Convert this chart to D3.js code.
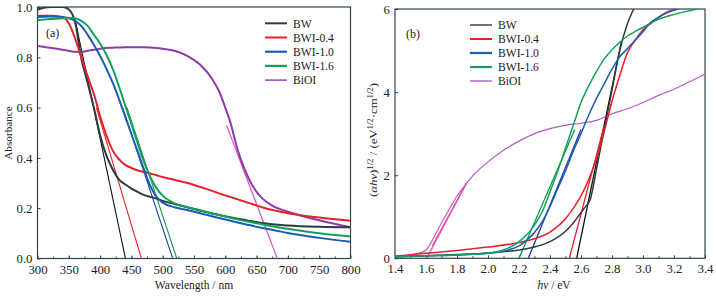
<!DOCTYPE html>
<html lang="en">
	<head>
		<meta charset="utf-8">
		<title>Absorbance and Tauc plot</title>
		<script type="text/javascript" src="https://cdn.jsdelivr.net/npm/d3@7"></script>
		<style type="text/css">
			body { margin: 0; background: #fff; }
			text { font-family: "Liberation Serif", "Times New Roman", serif; fill: #222; }
			.tick text { font-size: 12.8px; }
			.legend text { font-size: 11.6px; }
		</style>
	</head>
	<body>
		<script type="text/javascript">

			//Series names and colours
			let names = [ "BW", "BWI-0.4", "BWI-1.0", "BWI-1.6", "BiOI" ];
			let colorsA = [ "#2c3a42", "#e8202c", "#1c5cb4", "#12a05a", "#8c3ca4" ];
			let colorsB = [ "#2c3a42", "#e8202c", "#1c5cb4", "#12a05a", "#b55cc4" ];

			//(a) absorbance vs wavelength
			let wl = [ 300, 320, 340, 350, 360, 370, 380, 390, 400, 410, 420, 430, 440, 450, 460, 470, 480, 490, 500, 520, 540, 560, 580, 590, 600, 610, 615, 620, 630, 640, 650, 660, 675, 700, 750, 800 ];
			let absBW   = [ 0.99, 1.0, 1.0, 0.99, 0.94, 0.795, 0.70, 0.60, 0.49, 0.41, 0.355, 0.315, 0.295, 0.278, 0.265, 0.253, 0.245, 0.238, 0.229, 0.216, 0.203, 0.19, 0.178, 0.173, 0.168, 0.163, 0.16, 0.158, 0.154, 0.149, 0.145, 0.141, 0.136, 0.131, 0.126, 0.124 ];
			let absW04  = [ 0.965, 0.965, 0.96, 0.935, 0.875, 0.80, 0.725, 0.655, 0.565, 0.49, 0.43, 0.395, 0.372, 0.36, 0.35, 0.344, 0.338, 0.331, 0.324, 0.312, 0.3, 0.284, 0.268, 0.259, 0.251, 0.243, 0.239, 0.235, 0.227, 0.219, 0.211, 0.203, 0.193, 0.18, 0.163, 0.15 ];
			let absW10  = [ 0.96, 0.962, 0.96, 0.955, 0.945, 0.925, 0.89, 0.85, 0.805, 0.755, 0.70, 0.635, 0.565, 0.495, 0.425, 0.355, 0.29, 0.245, 0.222, 0.203, 0.192, 0.18, 0.167, 0.161, 0.155, 0.149, 0.146, 0.143, 0.137, 0.132, 0.126, 0.121, 0.114, 0.101, 0.082, 0.067 ];
			let absW16  = [ 0.948, 0.952, 0.955, 0.957, 0.955, 0.945, 0.925, 0.89, 0.855, 0.81, 0.755, 0.685, 0.61, 0.535, 0.458, 0.385, 0.325, 0.28, 0.25, 0.218, 0.204, 0.192, 0.179, 0.173, 0.167, 0.161, 0.158, 0.155, 0.15, 0.145, 0.14, 0.135, 0.128, 0.118, 0.1, 0.087 ];
			let absBiOI = [ 0.845, 0.838, 0.83, 0.826, 0.822, 0.822, 0.826, 0.83, 0.834, 0.837, 0.838, 0.839, 0.84, 0.84, 0.84, 0.84, 0.839, 0.837, 0.834, 0.825, 0.805, 0.77, 0.71, 0.665, 0.6, 0.525, 0.475, 0.43, 0.36, 0.305, 0.265, 0.237, 0.21, 0.186, 0.152, 0.124 ];

			//(a) band-edge tangents: [x at top, A at top, x-intercept]
			let tanA = [ [ 360, 0.95, 440.5 ], [ 394, 0.6, 466 ], [ 436, 0.6, 516 ], [ 443, 0.6, 522.5 ], [ 602, 0.53, 683 ] ];
			let tanAColor = [ "#111", "#e8202c", "#1a3ca8", "#0f9a50", "#dc48c4" ];

			//(b) Tauc plot
			let eBW   = [ 1.4, 1.6, 1.8, 2.0, 2.2, 2.3, 2.4, 2.5, 2.55, 2.6, 2.63, 2.66, 2.68, 2.7, 2.75, 2.8, 2.85, 2.9, 2.94 ];
			let tBW   = [ 0.04, 0.06, 0.09, 0.13, 0.2, 0.27, 0.4, 0.65, 0.85, 1.1, 1.25, 1.42, 1.75, 2.15, 3.1, 4.05, 5.0, 5.65, 6.0 ];
			let eW04  = [ 1.4, 1.6, 1.8, 2.0, 2.2, 2.3, 2.4, 2.5, 2.55, 2.6, 2.65, 2.7, 2.75, 2.8, 2.85, 2.9, 2.95, 3.0, 3.05, 3.1, 3.15, 3.22 ];
			let tW04  = [ 0.05, 0.12, 0.19, 0.27, 0.38, 0.47, 0.63, 0.95, 1.2, 1.5, 1.9, 2.4, 3.05, 3.78, 4.4, 4.95, 5.25, 5.5, 5.65, 5.8, 5.9, 6.0 ];
			let eW10  = [ 1.4, 1.6, 1.8, 2.0, 2.1, 2.2, 2.3, 2.35, 2.4, 2.45, 2.5, 2.55, 2.6, 2.65, 2.7, 2.75, 2.8, 2.85, 2.9, 2.95, 3.0, 3.05, 3.1, 3.15, 3.23 ];
			let tW10  = [ 0.04, 0.06, 0.08, 0.12, 0.17, 0.3, 0.62, 0.88, 1.25, 1.68, 2.1, 2.58, 3.0, 3.45, 3.85, 4.2, 4.55, 4.85, 5.05, 5.25, 5.45, 5.68, 5.8, 5.92, 6.0 ];
			let eW16  = [ 1.4, 1.6, 1.8, 2.0, 2.1, 2.2, 2.3, 2.35, 2.4, 2.45, 2.5, 2.55, 2.6, 2.65, 2.7, 2.75, 2.8, 2.85, 2.9, 2.95, 3.0, 3.1, 3.2, 3.3, 3.35 ];
			let tW16  = [ 0.04, 0.06, 0.08, 0.12, 0.2, 0.4, 0.8, 1.12, 1.6, 2.1, 2.65, 3.2, 3.75, 4.15, 4.5, 4.8, 5.02, 5.2, 5.35, 5.46, 5.56, 5.75, 5.87, 5.96, 6.0 ];
			let eBiOI = [ 1.4, 1.5, 1.55, 1.6, 1.65, 1.7, 1.75, 1.8, 1.85, 1.9, 2.0, 2.1, 2.2, 2.3, 2.4, 2.5, 2.6, 2.7, 2.8, 2.9, 3.0, 3.1, 3.2, 3.3, 3.4 ];
			let tBiOI = [ 0.05, 0.08, 0.12, 0.2, 0.5, 0.85, 1.18, 1.5, 1.75, 1.98, 2.32, 2.6, 2.82, 3.0, 3.12, 3.2, 3.25, 3.32, 3.48, 3.6, 3.75, 3.92, 4.07, 4.25, 4.43 ];

			//(b) tangents: [E at top, value at top, E-intercept]
			let tanB = [ [ 2.86, 5.2, 2.572 ], [ 2.75, 3.2, 2.525 ], [ 2.6, 3.1, 2.26 ], [ 2.56, 3.1, 2.2 ], [ 1.86, 1.8, 1.604 ] ];
			let tanBColor = [ "#111", "#e8202c", "#1a3ca8", "#0f9a50", "#e84aa8" ];

			let w = 716;
			let h = 296;

			let svg = d3.select("body")
						.append("svg")
						  .attr("width", w)
						  .attr("height", h);

			let frame = "#33434a";

			function panel(id, xDomain, xRange, yDomain, yRange, xTicks, xMinor, yTicks, fmtX, fmtY) {
				let x = d3.scaleLinear().domain(xDomain).range(xRange);
				let y = d3.scaleLinear().domain(yDomain).range(yRange);

				svg.append("clipPath").attr("id", id)
				  .append("rect")
				    .attr("x", xRange[0]).attr("y", yRange[1])
				    .attr("width", xRange[1] - xRange[0]).attr("height", yRange[0] - yRange[1]);

				//bottom axis: major labels, minor inward ticks
				svg.append("g")
				    .attr("transform", "translate(0," + yRange[0] + ")")
				    .call(d3.axisBottom(x).tickValues(xTicks).tickFormat(fmtX).tickSize(-3).tickPadding(6));
				svg.append("g")
				    .attr("transform", "translate(0," + yRange[0] + ")")
				    .call(d3.axisBottom(x).tickValues(xMinor).tickFormat("").tickSize(-2));
				svg.append("g")
				    .attr("transform", "translate(" + xRange[0] + ",0)")
				    .call(d3.axisLeft(y).tickValues(yTicks).tickFormat(fmtY).tickSize(-3).tickPadding(5));
				svg.selectAll(".domain").remove();
				svg.selectAll(".tick line").attr("stroke", frame);
				svg.selectAll(".tick text").attr("fill", "#222");

				svg.append("rect")
				    .attr("x", xRange[0]).attr("y", yRange[1])
				    .attr("width", xRange[1] - xRange[0]).attr("height", yRange[0] - yRange[1])
				    .attr("fill", "none").attr("stroke", frame).attr("stroke-width", 1.2);

				let plot = svg.append("g").attr("clip-path", "url(#" + id + ")");
				return { x: x, y: y, plot: plot };
			}

			//Panel (a)
			let A = panel("clipA", [ 300, 800 ], [ 37.5, 350.5 ], [ 0, 1.0 ], [ 258.5, 7 ],
				d3.range(300, 801, 50), d3.range(325, 800, 25), d3.range(0, 1.01, 0.2),
				d3.format("d"), d3.format(".1f"));

			let seriesA = [ absBW, absW04, absW10, absW16, absBiOI ];
			let lineA = d3.line().x((d, i) => A.x(wl[i])).y(d => A.y(d)).curve(d3.curveMonotoneX);

			//tangents first (thin)
			tanA.forEach((t, i) => {
				A.plot.append("line")
				    .attr("x1", A.x(t[0])).attr("y1", A.y(t[1]))
				    .attr("x2", A.x(t[2])).attr("y2", A.y(0))
				    .attr("stroke", tanAColor[i])
				    .attr("stroke-width", 1.1);
			});
			[ 4, 0, 1, 2, 3 ].forEach(i => {
				A.plot.append("path")
				    .attr("d", lineA(seriesA[i]))
				    .attr("fill", "none")
				    .attr("stroke", colorsA[i])
				    .attr("stroke-width", 2);
			});

			//Panel (b)
			let B = panel("clipB", [ 1.4, 3.4 ], [ 395, 705 ], [ 0, 6 ], [ 258.3, 9 ],
				d3.range(1.4, 3.41, 0.2), d3.range(1.5, 3.4, 0.1), [ 0, 2, 4, 6 ],
				d3.format(".1f"), d3.format("d"));

			let seriesB = [ [ eBW, tBW ], [ eW04, tW04 ], [ eW10, tW10 ], [ eW16, tW16 ], [ eBiOI, tBiOI ] ];
			tanB.forEach((t, i) => {
				B.plot.append("line")
				    .attr("x1", B.x(t[0])).attr("y1", B.y(t[1]))
				    .attr("x2", B.x(t[2])).attr("y2", B.y(0))
				    .attr("stroke", tanBColor[i])
				    .attr("stroke-width", 1.3);
			});
			[ 4, 0, 1, 2, 3 ].forEach(i => {
				let s = seriesB[i];
				let lineB = d3.line().x((d, j) => B.x(s[0][j])).y(d => B.y(d)).curve(d3.curveMonotoneX);
				B.plot.append("path")
				    .attr("d", lineB(s[1]))
				    .attr("fill", "none")
				    .attr("stroke", colorsB[i])
				    .attr("stroke-width", i == 4 ? 1.2 : 1.5);
			});
			//steep part of the BiOI edge sits under the pink tangent
			B.plot.append("line")
			    .attr("x1", B.x(tanB[4][0])).attr("y1", B.y(tanB[4][1]))
			    .attr("x2", B.x(1.64)).attr("y2", B.y(0.3))
			    .attr("stroke", "#e04cb0").attr("stroke-width", 1.2);

			//Legends
			function legend(x0, y0, dy, cols, widths) {
				let g = svg.append("g").attr("class", "legend");
				names.forEach((n, i) => {
					g.append("line")
					    .attr("x1", x0).attr("x2", x0 + 22)
					    .attr("y1", y0 + i * dy).attr("y2", y0 + i * dy)
					    .attr("stroke", cols[i]).attr("stroke-width", widths[i]);
					g.append("text")
					    .attr("x", x0 + 28).attr("y", y0 + i * dy + 4.2)
					    .text(n);
				});
			}
			legend(265, 23.3, 14.2, colorsA, [ 2, 2, 2.2, 2.2, 1.4 ]);
			legend(470, 25, 14, colorsB, [ 1.4, 2, 2.2, 2.2, 1.4 ]);

			//Panel letters
			svg.append("text").attr("x", 46).attr("y", 37).style("font-size", "12px").text("(a)");
			svg.append("text").attr("x", 406).attr("y", 38).style("font-size", "12px").text("(b)");

			//Axis titles
			svg.append("text")
			    .attr("x", 194).attr("y", 289)
			    .attr("text-anchor", "middle")
			    .style("font-size", "11.5px")
			    .text("Wavelength / nm");
			svg.append("text")
			    .attr("transform", "translate(12,133) rotate(-90)")
			    .attr("text-anchor", "middle")
			    .style("font-size", "11.2px")
			    .text("Absorbance");

			let xtb = svg.append("text")
			    .attr("x", 554).attr("y", 289)
			    .attr("text-anchor", "middle")
			    .style("font-size", "11.5px");
			xtb.append("tspan").style("font-style", "italic").text("hν");
			xtb.append("tspan").text(" / eV");

			let ytb = svg.append("text")
			    .attr("transform", "translate(377,140) rotate(-90)")
			    .attr("text-anchor", "middle")
			    .attr("textLength", 114)
			    .attr("lengthAdjust", "spacingAndGlyphs")
			    .style("font-size", "11px");
			ytb.append("tspan").text("(");
			ytb.append("tspan").style("font-style", "italic").text("αhν");
			ytb.append("tspan").text(")");
			ytb.append("tspan").attr("dy", -4.5).style("font-size", "7.5px").text("1/2");
			ytb.append("tspan").attr("dy", 4.5).text(" / (eV");
			ytb.append("tspan").attr("dy", -4.5).style("font-size", "7.5px").text("1/2");
			ytb.append("tspan").attr("dy", 4.5).text("·cm");
			ytb.append("tspan").attr("dy", -4.5).style("font-size", "7.5px").text("1/2");
			ytb.append("tspan").attr("dy", 4.5).text(")");

		</script>
	</body>
</html>
